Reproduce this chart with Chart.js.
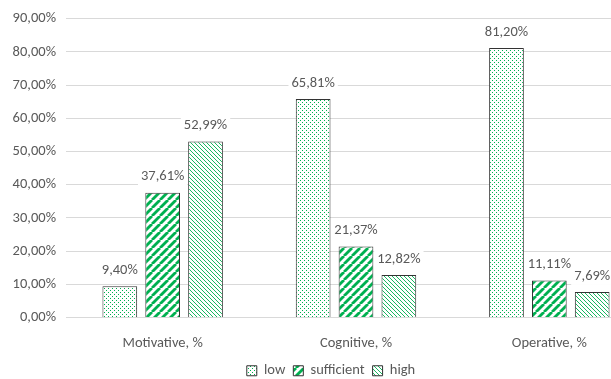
<!DOCTYPE html>
<html lang="en">
<head>
    <meta charset="UTF-8">
    <title>Levels by component</title>
    <script src="https://cdn.jsdelivr.net/npm/chart.js@4"></script>
    <style>
        html, body {
            margin: 0;
            padding: 0;
            background: #fff;
            overflow: hidden;
        }

        .chart-box {
            width: 650px;
            height: 379px;
        }
    </style>
</head>
<body>
    <div class="chart-box">
        <canvas id="myChart"></canvas>
    </div>

    <script>
        const categories = ['Motivative, %', 'Cognitive, %', 'Operative, %'];
        const seriesNames = ['low', 'sufficient', 'high'];
        const lowValues = [9.40, 65.81, 81.20];
        const sufficientValues = [37.61, 21.37, 11.11];
        const highValues = [52.99, 12.82, 7.69];
        const yTicks = [0, 10, 20, 30, 40, 50, 60, 70, 80, 90];

        const green = '#00b050';
        const textColor = '#595959';
        const fontFamily = 'Calibri, Carlito, Lato, sans-serif';
        const fontSize = 14.5;

        function makeTile(size, draw) {
            const c = document.createElement('canvas');
            c.width = size;
            c.height = size;
            const g = c.getContext('2d');
            g.fillStyle = '#fff';
            g.fillRect(0, 0, size, size);
            draw(g, size);
            return document.createElement('canvas').getContext('2d').createPattern(c, 'repeat');
        }

        // small dots
        const dotPattern = makeTile(4, (g) => {
            g.fillStyle = green;
            g.fillRect(0, 0, 1, 1);
            g.fillRect(2, 2, 1, 1);
        });

        // wide upward diagonal
        const widePattern = makeTile(8, (g, s) => {
            g.strokeStyle = green;
            g.lineWidth = 2.8;
            for (let o = -s; o <= s; o += s) {
                g.beginPath();
                g.moveTo(o, s);
                g.lineTo(o + s, 0);
                g.stroke();
            }
        });

        // thin downward diagonal
        const thinPattern = makeTile(4, (g, s) => {
            g.strokeStyle = green;
            g.lineWidth = 0.9;
            for (let o = -s; o <= s; o += s) {
                g.beginPath();
                g.moveTo(o, 0);
                g.lineTo(o + s, s);
                g.stroke();
            }
        });

        const fmt = v => v.toFixed(2).replace('.', ',') + '%';

        const valueLabels = {
            id: 'valueLabels',
            afterDatasetsDraw(chart) {
                const ctx = chart.ctx;
                ctx.save();
                ctx.font = fontSize + 'px ' + fontFamily;
                ctx.textAlign = 'center';
                ctx.textBaseline = 'middle';
                chart.data.datasets.forEach((ds, i) => {
                    chart.getDatasetMeta(i).data.forEach((bar, j) => {
                        const txt = fmt(ds.data[j]);
                        const w = ctx.measureText(txt).width;
                        const y = bar.y - 16;
                        ctx.fillStyle = '#fff';
                        ctx.fillRect(bar.x - w / 2 - 3, y - 9, w + 6, 18);
                        ctx.fillStyle = textColor;
                        ctx.fillText(txt, bar.x, y);
                    });
                });
                ctx.restore();
            }
        };

        // nudge the legend a little to the right, like the original
        const legendShift = {
            id: 'legendShift',
            afterLayout(chart) {
                chart.legend.left += 8;
                chart.legend.right += 8;
            }
        };

        const ctx = document.getElementById('myChart').getContext('2d');
        new Chart(ctx, {
            type: 'bar',
            data: {
                labels: categories,
                datasets: [
                    { label: seriesNames[0], data: lowValues, backgroundColor: dotPattern },
                    { label: seriesNames[1], data: sufficientValues, backgroundColor: widePattern },
                    { label: seriesNames[2], data: highValues, backgroundColor: thinPattern }
                ]
            },
            options: {
                responsive: true,
                maintainAspectRatio: false,
                animation: false,
                layout: { padding: { top: 12, right: 4, left: 0, bottom: -9 } },
                datasets: {
                    bar: {
                        categoryPercentage: 0.665,
                        barPercentage: 0.81,
                        borderColor: '#333',
                        borderWidth: 1
                    }
                },
                plugins: {
                    legend: {
                        position: 'bottom',
                        labels: {
                            color: textColor,
                            font: { family: fontFamily, size: fontSize },
                            boxWidth: 10,
                            boxHeight: 10,
                            padding: 8
                        }
                    },
                    tooltip: { enabled: false }
                },
                scales: {
                    x: {
                        afterFit(scale) { scale.height = 38; },
                        grid: { display: false },
                        border: { color: '#d9d9d9' },
                        ticks: {
                            color: textColor,
                            font: { family: fontFamily, size: fontSize },
                            padding: 9
                        }
                    },
                    y: {
                        min: 0,
                        max: 90,
                        afterFit(scale) { scale.width = 66; },
                        afterBuildTicks(scale) { scale.ticks = yTicks.map(v => ({ value: v })); },
                        grid: { color: '#d9d9d9', drawTicks: false },
                        border: { display: false },
                        ticks: {
                            color: textColor,
                            font: { family: fontFamily, size: fontSize },
                            padding: 10,
                            callback: v => fmt(v)
                        }
                    }
                }
            },
            plugins: [valueLabels, legendShift]
        });
    </script>
</body>
</html>
